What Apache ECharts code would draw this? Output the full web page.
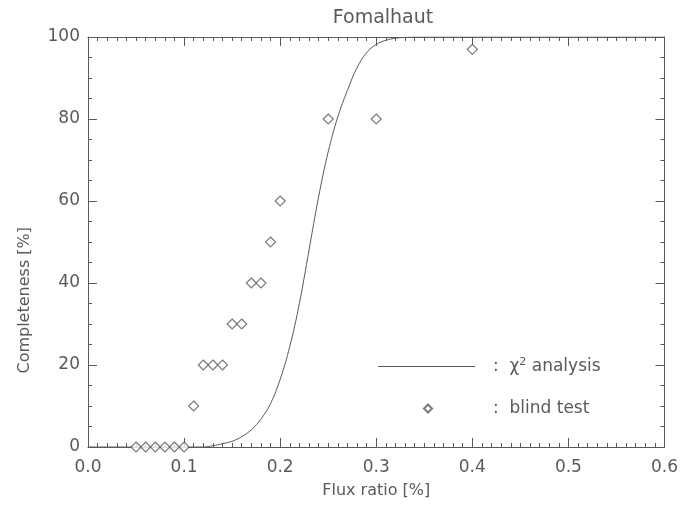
<!DOCTYPE html>
<html>
<head>
<meta charset="utf-8">
<script src="https://cdn.jsdelivr.net/npm/echarts@6/dist/echarts.min.js"></script>
<style>
  html, body { margin: 0; padding: 0; background: #fff; }
  #chart { width: 681px; height: 505px; }
</style>
</head>
<body>
<div id="chart"></div>
<script>
// Flux ratio (%) at which the chi-square completeness curve is sampled
const curveX = [0.00, 0.05, 0.10, 0.12, 0.13, 0.14, 0.15, 0.16, 0.17, 0.18, 0.19, 0.20,
                0.21, 0.22, 0.23, 0.24, 0.25, 0.26, 0.27, 0.28, 0.29, 0.30, 0.31, 0.32,
                0.33, 0.35, 0.40, 0.50, 0.60];
// Completeness (%) from the chi-square analysis
const curveY = [0, 0, 0, 0, 0.3, 0.8, 1.4, 2.5, 4.2, 6.8, 10.6, 16.5,
                24.5, 35, 48, 61, 72, 80.5, 87, 92.5, 96.2, 98.2, 99.2, 99.7,
                99.9, 100, 100, 100, 100];
// Blind test: injected flux ratios (%) and recovered fraction (%)
const blindX = [0.05, 0.06, 0.07, 0.08, 0.09, 0.10, 0.11, 0.12, 0.13, 0.14, 0.15, 0.16,
                0.17, 0.18, 0.19, 0.20, 0.25, 0.30, 0.40];
const blindY = [0, 0, 0, 0, 0, 0, 10, 20, 20, 20, 30, 30,
                40, 40, 50, 60, 80, 80, 97];

const titleText = 'Fomalhaut';
const xName = 'Flux ratio [%]';
const yName = 'Completeness [%]';
const curveName = 'chi2';
const blindName = 'blind';

const ink = '#5a5a5a';
const font = 'DejaVu Sans';

const chart = echarts.init(document.getElementById('chart'), null, { renderer: 'canvas' });

function frameAxis(extra) {
  return Object.assign({
    axisLine: { show: true, onZero: false, lineStyle: { color: ink, width: 1 } },
    axisTick: { show: true, inside: true, length: 9, lineStyle: { color: ink } },
    splitLine: { show: false },
    minorSplitLine: { show: false }
  }, extra);
}

const option = {
  animation: false,
  backgroundColor: '#fff',
  title: {
    text: titleText,
    left: 378,
    textAlign: 'center',
    top: 4,
    textStyle: { fontFamily: font, fontWeight: 'normal', fontSize: 19, color: ink }
  },
  grid: { left: 88, right: 13, top: 37, bottom: 58 },
  xAxis: [
    frameAxis({
      type: 'value', position: 'bottom', min: 0, max: 0.6, interval: 0.1,
      minorTick: { show: true, splitNumber: 10, length: 4, lineStyle: { color: ink } },
      axisLabel: {
        show: true, margin: 12, fontFamily: font, fontSize: 17, color: ink,
        formatter: v => v.toFixed(1)
      },
      name: xName, nameLocation: 'middle', nameGap: 36,
      nameTextStyle: { fontFamily: font, fontSize: 16, color: ink }
    }),
    frameAxis({
      type: 'value', position: 'top', min: 0, max: 0.6, interval: 0.1,
      minorTick: { show: true, splitNumber: 10, length: 4, lineStyle: { color: ink } },
      axisLabel: { show: false }
    })
  ],
  yAxis: [
    frameAxis({
      type: 'value', position: 'left', min: 0, max: 100, interval: 20,
      minorTick: { show: true, splitNumber: 4, length: 4, lineStyle: { color: ink } },
      axisLabel: { show: true, margin: 8, fontFamily: font, fontSize: 17, color: ink }
    }),
    frameAxis({
      type: 'value', position: 'right', min: 0, max: 100, interval: 20,
      minorTick: { show: true, splitNumber: 4, length: 4, lineStyle: { color: ink } },
      axisLabel: { show: false }
    })
  ],
  legend: [
    {
      data: [{ name: curveName, icon: 'rect' }],
      left: 378, top: 357,
      padding: 0,
      itemWidth: 97, itemHeight: 1.2,
      formatter: () => ':  χ{sup|2} analysis',
      textStyle: {
        fontFamily: font, fontSize: 17, color: ink, padding: [0, 0, 0, 13],
        rich: { sup: { fontFamily: font, fontSize: 11, color: ink, verticalAlign: 'top', padding: [0, 0, 8, 0] } }
      },
      selectedMode: false
    },
    {
      data: [blindName],
      left: 423, top: 400,
      padding: 0,
      itemWidth: 8, itemHeight: 8,
      formatter: () => ':  blind test',
      textStyle: { fontFamily: font, fontSize: 17, color: ink, padding: [0, 0, 0, 56] },
      selectedMode: false
    }
  ],
  series: [
    {
      name: curveName,
      type: 'line',
      xAxisIndex: 0, yAxisIndex: 0,
      data: curveX.map((x, i) => [x, curveY[i]]),
      symbol: 'none',
      smooth: 0.4,
      lineStyle: { color: ink, width: 1 },
      itemStyle: { color: ink },
      z: 3
    },
    {
      name: blindName,
      type: 'scatter',
      xAxisIndex: 0, yAxisIndex: 0,
      data: blindX.map((x, i) => [x, blindY[i]]),
      symbol: 'diamond',
      symbolSize: 10,
      itemStyle: { color: '#fff', borderColor: ink, borderWidth: 1.2 },
      z: 4
    }
  ],
  graphic: [
    {
      type: 'text',
      left: 17, top: 227,
      rotation: Math.PI / 2,
      style: {
        text: yName,
        fontFamily: font, fontSize: 16, fill: ink,
        align: 'center', verticalAlign: 'middle'
      }
    }
  ]
};

chart.setOption(option);
</script>
</body>
</html>
